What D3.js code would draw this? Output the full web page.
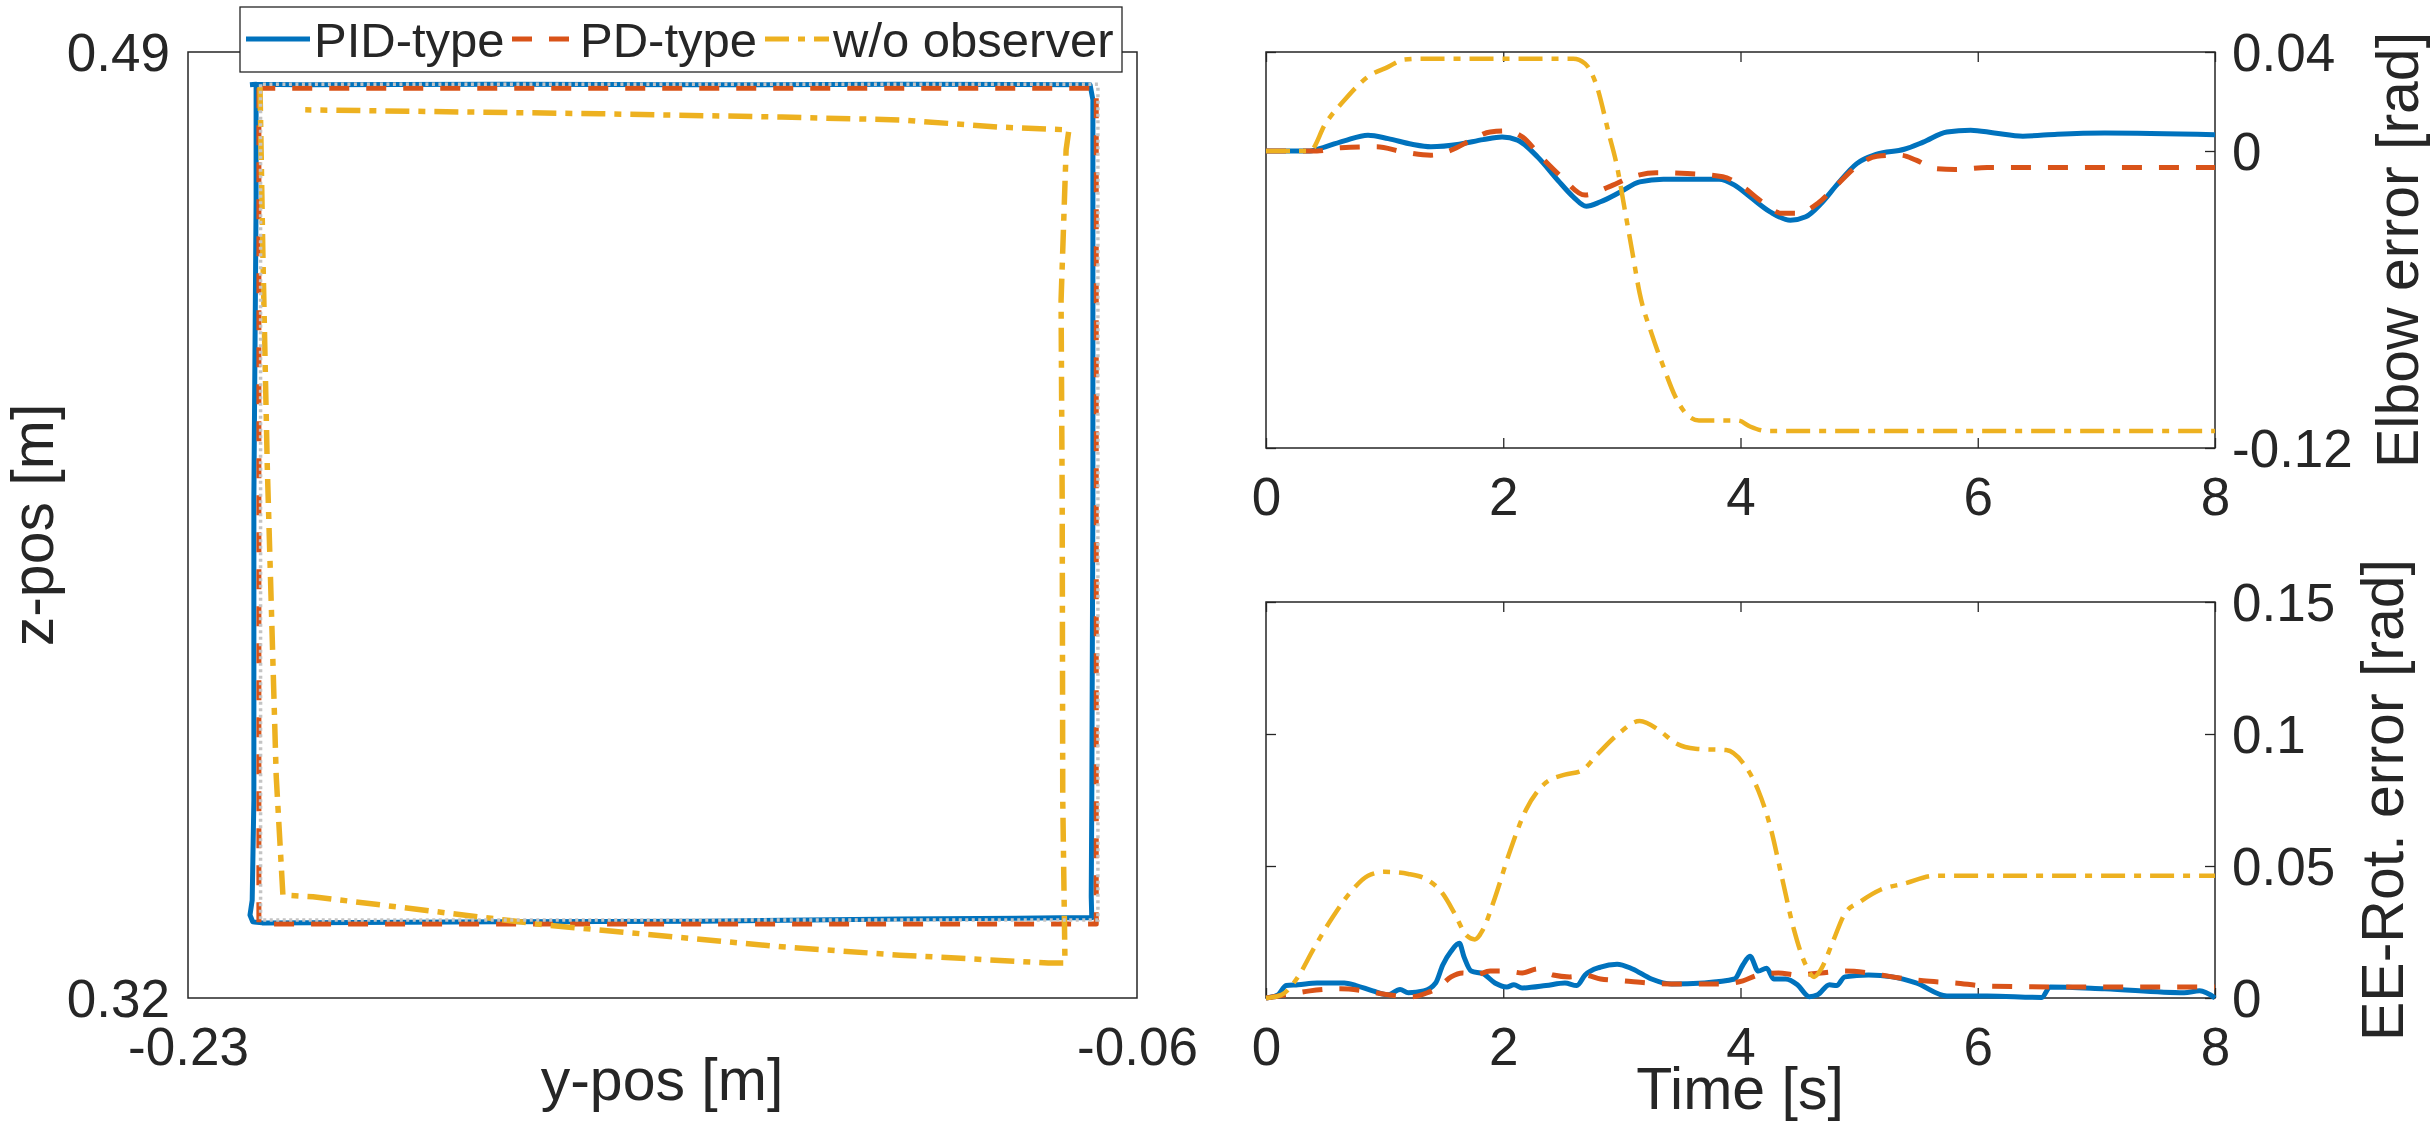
<!DOCTYPE html>
<html>
<head>
<meta charset="utf-8">
<script src="https://cdn.jsdelivr.net/npm/d3@7"></script>
<style>
    body { margin: 0; background: #fff; }
    text { font-family: "Liberation Sans", Arial, sans-serif; fill: #262626; }
</style>
</head>
<body>
<svg id="vis-svg"></svg>
<script>
/* data */
// left panel: y-pos / z-pos trajectories [m]
const refSquare = [[-0.217, 0.4842], [-0.217, 0.334], [-0.067, 0.334], [-0.067, 0.4842], [-0.217, 0.4842]];
const pidPath = [[-0.2189, 0.4841], [-0.2178, 0.4842], [-0.2178, 0.4634], [-0.2182, 0.4095], [-0.2182, 0.3556],
    [-0.2185, 0.3376], [-0.2189, 0.3349], [-0.2184, 0.3337], [-0.2167, 0.3335], [-0.1741, 0.3337], [-0.1383, 0.3338],
    [-0.1025, 0.3342], [-0.0738, 0.3344], [-0.0681, 0.3344], [-0.0682, 0.3382], [-0.0681, 0.3556], [-0.0679, 0.4095],
    [-0.0679, 0.4454], [-0.0679, 0.4814], [-0.0684, 0.4841], [-0.1025, 0.4842], [-0.1383, 0.4841], [-0.1741, 0.4842],
    [-0.2099, 0.4841], [-0.2178, 0.4842]];
const pdPath = [[-0.2173, 0.4835], [-0.2173, 0.3333], [-0.0673, 0.3333], [-0.0673, 0.4835], [-0.2173, 0.4835]];
const woPath = [[-0.2171, 0.4837], [-0.2166, 0.4544], [-0.2158, 0.4156], [-0.2142, 0.3599], [-0.2130, 0.3385],
    [-0.2076, 0.3382], [-0.1657, 0.3331], [-0.1236, 0.3292], [-0.1025, 0.3277], [-0.0759, 0.3263], [-0.0729, 0.3263],
    [-0.0733, 0.3556], [-0.0734, 0.4095], [-0.0736, 0.4454], [-0.0727, 0.4724], [-0.0722, 0.4760], [-0.0845, 0.4765],
    [-0.1025, 0.4778], [-0.1236, 0.4783], [-0.1562, 0.4789], [-0.2090, 0.4796]];

// top right: elbow error [rad] over time [s]
const elbowPID = [[0, 0], [0.37, 0], [0.5, 0.0017], [0.66, 0.0041], [0.86, 0.0064], [1.03, 0.005], [1.23, 0.0027],
    [1.39, 0.0017], [1.63, 0.0027], [1.83, 0.0046], [1.99, 0.0057], [2.12, 0.0044], [2.29, -0.0024], [2.46, -0.0118],
    [2.59, -0.0185], [2.7, -0.0223], [2.82, -0.0205], [2.99, -0.0165], [3.15, -0.0125], [3.35, -0.0114], [3.82, -0.0114],
    [3.95, -0.0138], [4.08, -0.0185], [4.25, -0.0246], [4.42, -0.028], [4.55, -0.0266], [4.68, -0.0212], [4.81, -0.0138],
    [4.98, -0.0051], [5.15, -0.0013], [5.38, 0.0007], [5.54, 0.0036], [5.74, 0.0077], [5.94, 0.0084], [6.14, 0.0073],
    [6.38, 0.006], [6.67, 0.0068], [7.07, 0.0073], [8, 0.0066]];
const elbowPD = [[0, 0], [0.43, 0], [0.63, 0.0013], [0.93, 0.0017], [1.16, -0.0004], [1.39, -0.0017], [1.56, 0.0003],
    [1.73, 0.0044], [1.89, 0.0077], [2.03, 0.0081], [2.16, 0.0057], [2.32, -0.0024], [2.49, -0.0104], [2.69, -0.0178],
    [2.89, -0.0145], [3.09, -0.0104], [3.29, -0.0088], [3.55, -0.0091], [3.85, -0.0104], [4.02, -0.0145], [4.18, -0.0205],
    [4.35, -0.0252], [4.48, -0.0252], [4.65, -0.0212], [4.81, -0.0138], [5.01, -0.0051], [5.15, -0.0021], [5.35, -0.0017],
    [5.48, -0.0037], [5.64, -0.0071], [5.81, -0.0075], [6.08, -0.0067], [8, -0.0067]];
const elbowWO = [[0, 0], [0.37, 0], [0.5, 0.011], [0.66, 0.0205], [0.86, 0.030], [1.03, 0.034], [1.16, 0.0369],
    [1.3, 0.0373], [2.59, 0.0373], [2.69, 0.0353], [2.79, 0.026], [2.89, 0.007], [2.96, -0.0064], [3.02, -0.0225],
    [3.09, -0.0414], [3.15, -0.0575], [3.25, -0.0737], [3.35, -0.0871], [3.45, -0.0992], [3.55, -0.1066], [3.65, -0.1089],
    [3.98, -0.1089], [4.08, -0.1113], [4.22, -0.1131], [8, -0.1131]];

// bottom right: end effector rotation error [rad] over time [s]
const rotPID = [[0, 0], [0.1, 0.0012], [0.17, 0.0047], [0.27, 0.005], [0.43, 0.0057], [0.66, 0.0057], [0.76, 0.0047],
    [0.9, 0.0027], [1.03, 0.0012], [1.13, 0.0032], [1.2, 0.002], [1.33, 0.0027], [1.43, 0.0057], [1.49, 0.0125],
    [1.56, 0.0177], [1.63, 0.0207], [1.67, 0.0155], [1.73, 0.0102], [1.83, 0.0092], [1.93, 0.0057], [2.03, 0.0042],
    [2.09, 0.005], [2.16, 0.0038], [2.36, 0.0047], [2.52, 0.0057], [2.62, 0.0047], [2.69, 0.0087], [2.82, 0.0117],
    [2.96, 0.0128], [3.09, 0.011], [3.25, 0.0072], [3.42, 0.0053], [3.69, 0.0057], [3.95, 0.0072], [4.02, 0.0125],
    [4.08, 0.0158], [4.15, 0.0102], [4.22, 0.0113], [4.28, 0.0072], [4.38, 0.0072], [4.48, 0.005], [4.58, 0.0005],
    [4.65, 0.0012], [4.75, 0.005], [4.81, 0.0047], [4.88, 0.008], [5.08, 0.0087], [5.28, 0.008], [5.48, 0.0057],
    [5.74, 0.0008], [6.08, 0.0008], [6.54, 0.0002], [6.61, 0.0042], [7.07, 0.0035], [7.74, 0.002], [7.87, 0.0027], [8, 0]];
const rotPD = [[0, 0], [0.17, 0.0012], [0.37, 0.0027], [0.63, 0.0035], [0.83, 0.0027], [1.03, 0.0012], [1.23, 0.0005],
    [1.36, 0.002], [1.46, 0.0042], [1.56, 0.008], [1.66, 0.0095], [1.76, 0.0087], [1.89, 0.0102], [2.03, 0.0102],
    [2.16, 0.0095], [2.29, 0.011], [2.42, 0.0087], [2.56, 0.008], [2.69, 0.0087], [2.82, 0.0072], [3.02, 0.0065],
    [3.22, 0.0057], [3.49, 0.0053], [3.82, 0.0053], [4.02, 0.0065], [4.15, 0.0087], [4.32, 0.0095], [4.48, 0.0087],
    [4.68, 0.0095], [4.88, 0.0102], [5.08, 0.0095], [5.28, 0.008], [5.54, 0.0065], [5.81, 0.0057], [6.08, 0.0045],
    [6.74, 0.0042], [8, 0.0042]];
const rotWO = [[0, 0], [0.13, 0.0012], [0.27, 0.008], [0.4, 0.0185], [0.56, 0.0305], [0.73, 0.041], [0.86, 0.0463],
    [1.0, 0.0478], [1.2, 0.047], [1.36, 0.0448], [1.49, 0.0395], [1.59, 0.032], [1.69, 0.0237], [1.76, 0.0222],
    [1.83, 0.026], [1.93, 0.038], [2.06, 0.0561], [2.19, 0.0711], [2.36, 0.0816], [2.52, 0.0846], [2.66, 0.0861],
    [2.79, 0.0921], [2.96, 0.0996], [3.15, 0.1049], [3.32, 0.1012], [3.45, 0.0966], [3.62, 0.0944], [3.88, 0.0939],
    [4.02, 0.0891], [4.15, 0.0786], [4.25, 0.0651], [4.35, 0.0455], [4.45, 0.026], [4.55, 0.0125], [4.62, 0.008],
    [4.68, 0.011], [4.78, 0.0215], [4.88, 0.032], [5.01, 0.0365], [5.18, 0.041], [5.38, 0.0433], [5.64, 0.0463],
    [6.08, 0.0463], [8, 0.0463]];

// ticks and labels
const posXTicks = [-0.23, -0.06];
const posYTicks = [0.32, 0.49];
const timeTicks = [0, 2, 4, 6, 8];
const elbowTicks = [-0.12, 0, 0.04];
const rotTicks = [0, 0.05, 0.1, 0.15];
const legendNames = ["PID-type", "PD-type", "w/o observer"];

/* styles */
const colors = ["#0072BD", "#D95319", "#EDB120"];
const dashes = [null, "20 17", "24 9 7 9"];
const frameColor = "#262626";
const tickFont = 53, labelFont = 59;

let svg = d3.select("#vis-svg")
    .attr("width", 2434)
    .attr("height", 1123);

// draws box, ticks and labels for one panel
function drawFrame(g, xScale, yScale, xTicks, yTicks, opts) {
    let [x0, x1] = xScale.range();
    let [y1, y0] = yScale.range();
    let fmt = d => String(d);

    let xAx = g.append("g").attr("transform", `translate(0, ${y1})`)
        .call(d3.axisBottom(xScale).tickValues(xTicks).tickSizeInner(-opts.tick).tickSizeOuter(0).tickFormat(fmt));
    xAx.selectAll("text").attr("y", 48).attr("dy", "0.35em").style("font-size", tickFont + "px");

    g.append("g").attr("transform", `translate(0, ${y0})`)
        .call(d3.axisTop(xScale).tickValues(xTicks).tickSizeInner(-opts.tick).tickSizeOuter(0).tickFormat(""));

    let side = opts.yRight ? d3.axisRight : d3.axisLeft;
    let yAx = g.append("g").attr("transform", `translate(${opts.yRight ? x1 : x0}, 0)`)
        .call(side(yScale).tickValues(yTicks).tickSizeInner(-opts.tick).tickSizeOuter(0).tickFormat(fmt).tickPadding(opts.yPad));
    yAx.selectAll("text").attr("dy", "0.35em").style("font-size", tickFont + "px");

    let other = opts.yRight ? d3.axisLeft : d3.axisRight;
    g.append("g").attr("transform", `translate(${opts.yRight ? x0 : x1}, 0)`)
        .call(other(yScale).tickValues(yTicks).tickSizeInner(-opts.tick).tickSizeOuter(0).tickFormat(""));

    g.selectAll(".domain").remove();
    g.selectAll(".tick line").attr("stroke", frameColor).attr("stroke-width", 1.3);
    g.selectAll(".tick text").attr("fill", frameColor).style("font-family", '"Liberation Sans", Arial, sans-serif');

    g.append("rect")
        .attr("x", x0).attr("y", y0)
        .attr("width", x1 - x0).attr("height", y1 - y0)
        .attr("fill", "none")
        .attr("stroke", frameColor)
        .attr("stroke-width", 1.5);
}

function drawLine(g, data, line, i, width) {
    g.append("path")
        .datum(data)
        .attr("d", line)
        .attr("fill", "none")
        .attr("stroke", colors[i])
        .attr("stroke-width", width)
        .attr("stroke-dasharray", dashes[i])
        .attr("stroke-linejoin", "round");
}

/* left panel: trajectory */
let posX = d3.scaleLinear().domain([-0.23, -0.06]).range([188, 1137]);
let posY = d3.scaleLinear().domain([0.32, 0.49]).range([998, 52]);
let posLine = d3.line().x(d => posX(d[0])).y(d => posY(d[1]));

let posG = svg.append("g").attr("class", "pos");
drawFrame(posG, posX, posY, posXTicks, posYTicks, { tick: 0, yRight: false, yPad: 18 });
drawLine(posG, pidPath, posLine, 0, 5);
drawLine(posG, pdPath, posLine, 1, 5);
drawLine(posG, woPath, posLine, 2, 5.5);
posG.append("path")
    .datum(refSquare)
    .attr("d", posLine)
    .attr("fill", "none")
    .attr("stroke", "#c4c4c4")
    .attr("stroke-width", 3.5)
    .attr("stroke-dasharray", "3 3.5");

posG.append("text")
    .attr("x", 662).attr("y", 1100)
    .attr("text-anchor", "middle")
    .style("font-size", labelFont + "px")
    .text("y-pos [m]");
posG.append("text")
    .attr("transform", "translate(53, 525) rotate(-90)")
    .attr("text-anchor", "middle")
    .style("font-size", labelFont + "px")
    .text("z-pos [m]");

/* right panels: errors over time */
let timeX = d3.scaleLinear().domain([0, 8]).range([1266, 2215]);
let elbowY = d3.scaleLinear().domain([-0.12, 0.04]).range([448, 52]);
let rotY = d3.scaleLinear().domain([0, 0.15]).range([998, 602]);

let elbowLine = d3.line().curve(d3.curveMonotoneX).x(d => timeX(d[0])).y(d => elbowY(d[1]));
let rotLine = d3.line().curve(d3.curveMonotoneX).x(d => timeX(d[0])).y(d => rotY(d[1]));

let elbowG = svg.append("g").attr("class", "elbow");
drawFrame(elbowG, timeX, elbowY, timeTicks, elbowTicks, { tick: 10, yRight: true, yPad: 17 });
drawLine(elbowG, elbowPID, elbowLine, 0, 5);
drawLine(elbowG, elbowPD, elbowLine, 1, 5);
drawLine(elbowG, elbowWO, elbowLine, 2, 4.5);
elbowG.append("text")
    .attr("transform", "translate(2418, 250) rotate(-90)")
    .attr("text-anchor", "middle")
    .style("font-size", labelFont + "px")
    .text("Elbow error [rad]");

let rotG = svg.append("g").attr("class", "rot");
drawFrame(rotG, timeX, rotY, timeTicks, rotTicks, { tick: 10, yRight: true, yPad: 17 });
drawLine(rotG, rotPID, rotLine, 0, 5);
drawLine(rotG, rotPD, rotLine, 1, 5);
drawLine(rotG, rotWO, rotLine, 2, 4.5);
rotG.append("text")
    .attr("transform", "translate(2403, 800) rotate(-90)")
    .attr("text-anchor", "middle")
    .style("font-size", labelFont + "px")
    .text("EE-Rot. error [rad]");
rotG.append("text")
    .attr("x", 1740).attr("y", 1109)
    .attr("text-anchor", "middle")
    .style("font-size", labelFont + "px")
    .text("Time [s]");

/* legend on top of the left panel */
let legend = svg.append("g").attr("class", "legend");
legend.append("rect")
    .attr("x", 240).attr("y", 7)
    .attr("width", 882).attr("height", 65)
    .attr("fill", "#fff")
    .attr("stroke", frameColor)
    .attr("stroke-width", 1.3);

let sampleX = [246, 512, 765];
legendNames.forEach((name, i) => {
    legend.append("line")
        .attr("x1", sampleX[i]).attr("x2", sampleX[i] + 64)
        .attr("y1", 39).attr("y2", 39)
        .attr("stroke", colors[i])
        .attr("stroke-width", 5)
        .attr("stroke-dasharray", dashes[i]);
    legend.append("text")
        .attr("x", sampleX[i] + 68).attr("y", 40)
        .attr("dy", "0.35em")
        .style("font-size", "49px")
        .text(name);
});
</script>
</body>
</html>
